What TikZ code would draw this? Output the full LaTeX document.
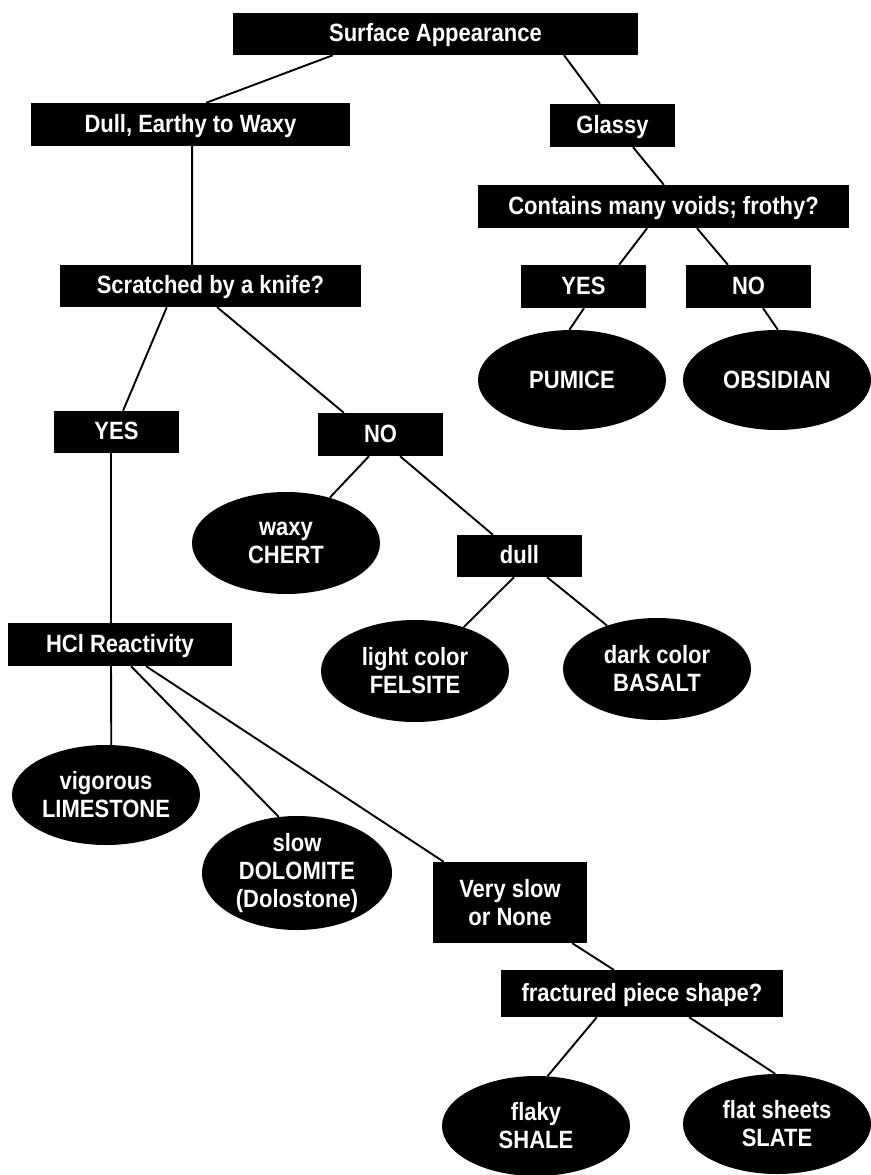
\documentclass[tikz,border=0pt]{standalone}
\usepackage{fontspec}
\newfontfamily\lab[FakeStretch=0.88]{Liberation Sans}
\usetikzlibrary{shapes.geometric,calc}
\begin{document}
\begin{tikzpicture}[x=1pt,y=-1pt,
 lbl/.style={font=\lab\bfseries\fontsize{25}{28}\selectfont, text=white},
 box/.style={lbl, rectangle, fill=black, inner sep=0pt, text height=18pt, text depth=3pt},
 box2/.style={lbl, rectangle, fill=black, inner sep=0pt, align=center},
 oval/.style={lbl, ellipse, fill=black, inner sep=0pt, align=center, minimum width=188pt, minimum height=100pt},
 link/.style={line width=1.9pt, black}]
\useasboundingbox[fill=white] (0,0) rectangle (870,1175);

\node[box, minimum width=405pt, minimum height=42pt] (sa) at (435.5,34) {Surface Appearance};
\node[box, minimum width=319pt, minimum height=43pt] (dull) at (190.5,124.5) {Dull, Earthy to Waxy};
\node[box, minimum width=125pt, minimum height=43pt] (glassy) at (612.5,125.5) {Glassy};
\node[box, minimum width=371pt, minimum height=43pt] (voids) at (663.5,206.5) {Contains many voids; frothy?};
\node[box, minimum width=301pt, minimum height=42pt] (knife) at (210.5,286) {Scratched by a knife?};
\node[box, minimum width=125pt, minimum height=43pt] (yesR) at (583.5,286.5) {YES};
\node[box, minimum width=125pt, minimum height=43pt] (noR) at (748.5,286.5) {NO};
\node[oval] (pumice) at (572,380) {PUMICE};
\node[oval] (obsidian) at (777,380) {OBSIDIAN};
\node[box, minimum width=125pt, minimum height=42pt] (yesL) at (116.5,432) {YES};
\node[box, minimum width=125pt, minimum height=43pt] (noL) at (380.5,434.5) {NO};
\node[oval, minimum height=102pt] (chert) at (286,543) {waxy\\CHERT};
\node[box, minimum width=125pt, minimum height=42pt] (dullq) at (519.5,556) {dull};
\node[box, minimum width=224pt, minimum height=43pt] (hcl) at (120,644.5) {HCl Reactivity};
\node[oval, minimum height=102pt] (felsite) at (415,671) {light color\\FELSITE};
\node[oval, minimum height=102pt] (basalt) at (657,669) {dark color\\BASALT};
\node[oval] (lime) at (106,795) {vigorous\\LIMESTONE};
\node[oval, minimum width=190pt, minimum height=114pt] (dolo) at (297,873) {slow\\DOLOMITE\\(Dolostone)};
\node[box2, minimum width=154pt, minimum height=81pt] (vslow) at (510,902.5) {Very slow\\or None};
\node[box, minimum width=282pt, minimum height=47pt] (frac) at (642,993.5) {fractured piece shape?};
\node[oval] (shale) at (536,1126) {flaky\\SHALE};
\node[oval] (slate) at (777,1124) {flat sheets\\SLATE};

\draw[link] ($(sa.south west)!0.247!(sa.south east)$) -- ($(dull.north west)!0.549!(dull.north east)$);
\draw[link] ($(sa.south west)!0.817!(sa.south east)$) -- ($(glassy.north west)!0.4!(glassy.north east)$);
\draw[link] ($(dull.south west)!0.505!(dull.south east)$) -- ($(knife.north west)!0.439!(knife.north east)$);
\draw[link] ($(glassy.south west)!0.664!(glassy.south east)$) -- ($(voids.north west)!0.501!(voids.north east)$);
\draw[link] ($(voids.south west)!0.456!(voids.south east)$) -- ($(yesR.north west)!0.784!(yesR.north east)$);
\draw[link] ($(voids.south west)!0.59!(voids.south east)$) -- ($(noR.north west)!0.336!(noR.north east)$);
\draw[link] ($(yesR.south west)!0.504!(yesR.south east)$) -- (pumice.93);
\draw[link] ($(noR.south west)!0.616!(noR.south east)$) -- (obsidian.89);
\draw[link] ($(knife.south west)!0.355!(knife.south east)$) -- ($(yesL.north west)!0.552!(yesL.north east)$);
\draw[link] ($(knife.south west)!0.522!(knife.south east)$) -- ($(noL.north west)!0.208!(noL.north east)$);
\draw[link] ($(noL.south west)!0.408!(noL.south east)$) -- (chert.46);
\draw[link] ($(noL.south west)!0.656!(noL.south east)$) -- ($(dullq.north west)!0.288!(dullq.north east)$);
\draw[link] ($(yesL.south west)!0.456!(yesL.south east)$) -- ($(hcl.north west)!0.46!(hcl.north east)$);
\draw[link] ($(dullq.south west)!0.456!(dullq.south east)$) -- (felsite.42);
\draw[link] ($(dullq.south west)!0.72!(dullq.south east)$) -- (basalt.139);
\draw[link] ($(hcl.south west)!0.46!(hcl.south east)$) -- (lime.84);
\draw[link] ($(hcl.south west)!0.549!(hcl.south east)$) -- (dolo.108);
\draw[link] ($(hcl.south west)!0.616!(hcl.south east)$) -- ($(vslow.north west)!0.071!(vslow.north east)$);
\draw[link] ($(vslow.south west)!0.903!(vslow.south east)$) -- ($(frac.north west)!0.4!(frac.north east)$);
\draw[link] ($(frac.south west)!0.34!(frac.south east)$) -- (shale.77);
\draw[link] ($(frac.south west)!0.667!(frac.south east)$) -- (slate.92);
\end{tikzpicture}
\end{document}
